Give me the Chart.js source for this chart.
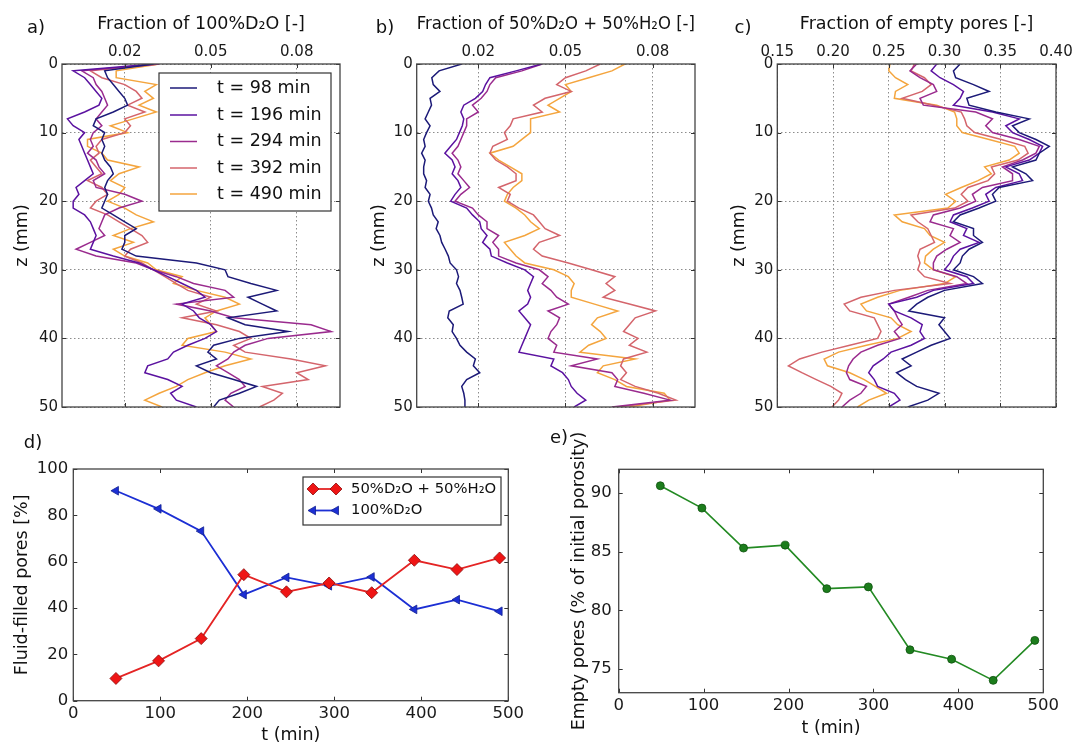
<!DOCTYPE html>
<html>
<head>
<meta charset="utf-8">
<title>Profiles</title>
<script src="https://cdn.jsdelivr.net/npm/chart.js@4.4.1/dist/chart.umd.min.js"></script>
<style>
  html, body { margin: 0; padding: 0; background: #fff; }
  body { width: 1073px; height: 743px; overflow: hidden; position: relative; }
  canvas { position: absolute; }
</style>
</head>
<body>
<canvas id="panel_a" width="360" height="420" style="left:0px;top:0px"></canvas>
<canvas id="panel_b" width="360" height="420" style="left:360px;top:0px"></canvas>
<canvas id="panel_c" width="360" height="420" style="left:720px;top:0px"></canvas>
<canvas id="panel_d" width="540" height="330" style="left:0px;top:420px"></canvas>
<canvas id="panel_e" width="533" height="330" style="left:540px;top:420px"></canvas>
<script>
"use strict";

// depth grid of the profiles (mm) and the scan times
var Z_MM = [0, 1, 2, 3, 4, 5, 6, 7, 8, 9, 10, 11, 12, 13, 14, 15, 16, 17, 18, 19, 20,
    21, 22, 23, 24, 25, 26, 27, 28, 29, 30, 31, 32, 33, 34, 35, 36, 37, 38, 39, 40,
    41, 42, 43, 44, 45, 46, 47, 48, 49, 50];
var T_MIN = [98, 196, 294, 392, 490];

// a) fraction of 100%D2O
var pure_98 = [0.030, 0.013, 0.014, 0.016, 0.018, 0.020, 0.021, 0.016, 0.010, 0.009,
    0.013, 0.012, 0.013, 0.012, 0.013, 0.015, 0.016, 0.014, 0.013, 0.014,
    0.013, 0.012, 0.016, 0.020, 0.024, 0.020, 0.020, 0.019, 0.024, 0.045,
    0.055, 0.056, 0.064, 0.073, 0.063, 0.068, 0.073, 0.056, 0.062, 0.077,
    0.060, 0.051, 0.049, 0.052, 0.045, 0.050, 0.058, 0.066, 0.060, 0.053, 0.051];
var pure_196 = [0.030, 0.002, 0.006, 0.008, 0.010, 0.012, 0.011, 0.006, 0.000, 0.002,
    0.006, 0.004, 0.005, 0.006, 0.007, 0.008, 0.009, 0.006, 0.003, 0.004,
    0.002, 0.002, 0.006, 0.008, 0.009, 0.010, 0.009, 0.008, 0.016, 0.025,
    0.030, 0.035, 0.040, 0.045, 0.048, 0.040, 0.044, 0.046, 0.050, 0.052,
    0.048, 0.042, 0.037, 0.035, 0.028, 0.027, 0.035, 0.040, 0.036, 0.038, 0.045];
var pure_294 = [0.032, 0.005, 0.009, 0.010, 0.012, 0.013, 0.014, 0.012, 0.010, 0.012,
    0.009, 0.008, 0.009, 0.007, 0.010, 0.011, 0.013, 0.009, 0.010, 0.020,
    0.026, 0.018, 0.013, 0.012, 0.011, 0.013, 0.008, 0.003, 0.010, 0.024,
    0.030, 0.038, 0.044, 0.055, 0.058, 0.038, 0.050, 0.058, 0.085, 0.092,
    0.070, 0.062, 0.058, 0.056, 0.052, 0.056, 0.060, 0.062, 0.057, 0.055, 0.058];
var pure_392 = [0.032, 0.008, 0.012, 0.020, 0.024, 0.026, 0.021, 0.027, 0.020, 0.022,
    0.020, 0.012, 0.010, 0.011, 0.008, 0.010, 0.012, 0.007, 0.012, 0.014,
    0.010, 0.008, 0.014, 0.018, 0.022, 0.026, 0.028, 0.022, 0.020, 0.026,
    0.030, 0.034, 0.038, 0.042, 0.050, 0.045, 0.052, 0.040, 0.052, 0.060,
    0.064, 0.058, 0.062, 0.078, 0.090, 0.080, 0.084, 0.068, 0.075, 0.072, 0.067];
var pure_490 = [0.032, 0.017, 0.017, 0.031, 0.027, 0.030, 0.025, 0.031, 0.023, 0.015,
    0.021, 0.007, 0.007, 0.012, 0.014, 0.025, 0.018, 0.015, 0.020, 0.018,
    0.014, 0.020, 0.024, 0.030, 0.022, 0.016, 0.023, 0.016, 0.020, 0.028,
    0.031, 0.040, 0.037, 0.045, 0.055, 0.060, 0.052, 0.048, 0.050, 0.052,
    0.042, 0.040, 0.055, 0.064, 0.055, 0.048, 0.042, 0.038, 0.032, 0.027, 0.033];

// b) fraction of 50%D2O + 50%H2O
var mix_98 = [0.0143, 0.0065, 0.0040, 0.0045, 0.0068, 0.0034, 0.0039, 0.0028, 0.0017, 0.0034,
    0.0022, 0.0012, 0.0017, 0.0005, 0.0017, 0.0012, 0.0012, 0.0022, 0.0017, 0.0034,
    0.0028, 0.0039, 0.0045, 0.0062, 0.0055, 0.0068, 0.0074, 0.0086, 0.0097, 0.0103,
    0.0125, 0.0132, 0.0125, 0.0137, 0.0143, 0.0148, 0.0100, 0.0095, 0.0114, 0.0110,
    0.0125, 0.0137, 0.0160, 0.0190, 0.0183, 0.0205, 0.0160, 0.0143, 0.0150, 0.0154, 0.0154];
var mix_196 = [0.0418, 0.033, 0.024, 0.0225, 0.0215, 0.019, 0.015, 0.014, 0.015, 0.0145,
    0.0135, 0.0125, 0.0105, 0.0085, 0.011, 0.012, 0.011, 0.013, 0.014, 0.012,
    0.0105, 0.016, 0.018, 0.0205, 0.021, 0.023, 0.0215, 0.024, 0.0245, 0.030,
    0.036, 0.039, 0.038, 0.037, 0.038, 0.037, 0.034, 0.036, 0.038, 0.037,
    0.036, 0.035, 0.034, 0.046, 0.045, 0.049, 0.051, 0.052, 0.054, 0.057, 0.053];
var mix_294 = [0.042, 0.035, 0.026, 0.024, 0.023, 0.021, 0.018, 0.020, 0.016, 0.016,
    0.015, 0.014, 0.013, 0.011, 0.013, 0.014, 0.013, 0.015, 0.017, 0.014,
    0.012, 0.018, 0.020, 0.023, 0.023, 0.027, 0.025, 0.027, 0.027, 0.033,
    0.041, 0.044, 0.042, 0.045, 0.047, 0.051, 0.044, 0.048, 0.047, 0.045,
    0.044, 0.047, 0.046, 0.061, 0.052, 0.066, 0.068, 0.067, 0.077, 0.086, 0.066];
var mix_392 = [0.062, 0.057, 0.050, 0.047, 0.052, 0.043, 0.039, 0.042, 0.032, 0.031,
    0.029, 0.030, 0.025, 0.024, 0.026, 0.030, 0.033, 0.033, 0.027, 0.031,
    0.030, 0.034, 0.039, 0.041, 0.043, 0.048, 0.041, 0.039, 0.042, 0.051,
    0.059, 0.067, 0.064, 0.067, 0.063, 0.072, 0.081, 0.074, 0.072, 0.070,
    0.075, 0.072, 0.078, 0.070, 0.069, 0.071, 0.069, 0.074, 0.082, 0.088, 0.068];
var mix_490 = [0.0705, 0.066, 0.058, 0.050, 0.052, 0.048, 0.044, 0.048, 0.038, 0.038,
    0.038, 0.035, 0.032, 0.024, 0.027, 0.031, 0.035, 0.035, 0.032, 0.030,
    0.029, 0.033, 0.036, 0.038, 0.041, 0.036, 0.029, 0.031, 0.033, 0.036,
    0.046, 0.051, 0.053, 0.052, 0.052, 0.060, 0.068, 0.061, 0.059, 0.062,
    0.064, 0.058, 0.055, 0.074, 0.063, 0.061, 0.067, 0.071, 0.084, 0.086, 0.072];

// c) fraction of empty pores
var empty_98 = [0.314, 0.308, 0.310, 0.326, 0.340, 0.320, 0.322, 0.346, 0.376, 0.361,
    0.367, 0.382, 0.394, 0.385, 0.382, 0.361, 0.373, 0.379, 0.349, 0.343,
    0.346, 0.331, 0.314, 0.308, 0.326, 0.326, 0.334, 0.322, 0.316, 0.314,
    0.308, 0.326, 0.334, 0.300, 0.285, 0.275, 0.268, 0.300, 0.295, 0.300,
    0.305, 0.288, 0.275, 0.262, 0.270, 0.257, 0.265, 0.275, 0.295, 0.285, 0.267];
var empty_196 = [0.293, 0.288, 0.296, 0.308, 0.317, 0.314, 0.308, 0.343, 0.367, 0.355,
    0.361, 0.376, 0.388, 0.385, 0.376, 0.355, 0.367, 0.370, 0.346, 0.337,
    0.340, 0.325, 0.308, 0.305, 0.320, 0.317, 0.331, 0.314, 0.308, 0.305,
    0.300, 0.320, 0.326, 0.290, 0.275, 0.250, 0.255, 0.270, 0.280, 0.278,
    0.282, 0.270, 0.252, 0.245, 0.236, 0.232, 0.237, 0.240, 0.255, 0.260, 0.250];
var empty_294 = [0.275, 0.269, 0.278, 0.290, 0.293, 0.278, 0.281, 0.328, 0.343, 0.337,
    0.343, 0.367, 0.385, 0.382, 0.370, 0.352, 0.361, 0.361, 0.334, 0.325,
    0.328, 0.314, 0.290, 0.287, 0.308, 0.305, 0.314, 0.302, 0.293, 0.290,
    0.290, 0.311, 0.320, 0.285, 0.268, 0.250, 0.255, 0.258, 0.262, 0.255,
    0.260, 0.240, 0.225, 0.218, 0.214, 0.212, 0.215, 0.230, 0.225, 0.215, 0.208];
var empty_392 = [0.273, 0.270, 0.282, 0.288, 0.280, 0.262, 0.290, 0.315, 0.318, 0.320,
    0.327, 0.351, 0.372, 0.375, 0.366, 0.342, 0.345, 0.339, 0.321, 0.315,
    0.321, 0.309, 0.270, 0.276, 0.285, 0.288, 0.291, 0.278, 0.276, 0.278,
    0.276, 0.282, 0.305, 0.255, 0.225, 0.210, 0.215, 0.237, 0.240, 0.243,
    0.240, 0.215, 0.190, 0.170, 0.160, 0.172, 0.185, 0.198, 0.208, 0.205, 0.199];
var empty_490 = [0.251, 0.250, 0.256, 0.267, 0.256, 0.255, 0.293, 0.309, 0.311, 0.311,
    0.316, 0.340, 0.363, 0.367, 0.358, 0.336, 0.342, 0.330, 0.315, 0.301,
    0.310, 0.303, 0.255, 0.262, 0.282, 0.287, 0.300, 0.290, 0.283, 0.282,
    0.290, 0.310, 0.300, 0.260, 0.240, 0.225, 0.230, 0.252, 0.258, 0.270,
    0.258, 0.230, 0.205, 0.192, 0.195, 0.215, 0.228, 0.238, 0.248, 0.232, 0.222];

// d) and e) totals over time
var T_SAMPLE = [49, 98, 147, 196, 245, 294, 343, 392, 441, 490];
var MIX_FILLED = [9.6, 17.2, 26.8, 54.4, 47.0, 50.8, 46.6, 60.6, 56.6, 61.6];
var PURE_FILLED = [90.6, 82.8, 73.2, 45.8, 53.2, 49.6, 53.4, 39.4, 43.6, 38.6];
var EMPTY_PCT = [90.6, 88.7, 85.3, 85.55, 81.85, 82.0, 76.65, 75.85, 74.05, 77.45];

// tick labels
var Z_TICKS = [0, 10, 20, 30, 40, 50];
var FRACTION_TICKS = [0.02, 0.05, 0.08];
var EMPTY_TICKS = [0.15, 0.20, 0.25, 0.30, 0.35, 0.40];
var T_TICKS = [0, 100, 200, 300, 400, 500];
var FILLED_TICKS = [0, 20, 40, 60, 80, 100];
var PCT_TICKS = [75, 80, 85, 90];

var FAMILY = '"DejaVu Sans", "Liberation Sans", sans-serif';
var LINE_COLORS = ['#1c1a78', '#5b12a0', '#9a2b8e', '#d4656c', '#f4a53e'];

function fixedTicks(list) {
    return function (scale) {
        scale.ticks = list.map(function (v) { return {value: v}; });
    };
}

// box around the plot, inward tick marks and the panel letter
var framePlugin = {
    id: 'frame',
    afterDraw: function (chart, args, opts) {
        var ctx = chart.ctx;
        var a = chart.chartArea;
        ctx.save();
        ctx.strokeStyle = '#333';
        ctx.lineWidth = 1;
        ['x', 'y'].forEach(function (id) {
            var s = chart.scales[id];
            s.ticks.forEach(function (t) {
                var p = Math.round(s.getPixelForValue(t.value)) + 0.5;
                ctx.beginPath();
                if (s.isHorizontal()) {
                    ctx.moveTo(p, a.top); ctx.lineTo(p, a.top + 4);
                    ctx.moveTo(p, a.bottom); ctx.lineTo(p, a.bottom - 4);
                } else {
                    ctx.moveTo(a.left, p); ctx.lineTo(a.left + 4, p);
                    ctx.moveTo(a.right, p); ctx.lineTo(a.right - 4, p);
                }
                ctx.stroke();
            });
        });
        ctx.strokeStyle = '#444';
        ctx.lineWidth = 1.3;
        ctx.strokeRect(a.left, a.top, a.right - a.left, a.bottom - a.top);
        ctx.fillStyle = '#111';
        ctx.font = '18px ' + FAMILY;
        ctx.textAlign = 'center';
        ctx.textBaseline = 'middle';
        ctx.fillText(opts.letter, opts.lx, opts.ly);
        ctx.restore();
    }
};

// legend box drawn inside the plot like matplotlib does
var boxLegend = {
    id: 'boxLegend',
    afterDraw: function (chart, args, opts) {
        var ctx = chart.ctx;
        ctx.save();
        ctx.fillStyle = '#fff';
        ctx.fillRect(opts.x, opts.y, opts.w, opts.h);
        ctx.strokeStyle = '#333';
        ctx.lineWidth = 1.2;
        ctx.strokeRect(opts.x, opts.y, opts.w, opts.h);
        chart.data.datasets.forEach(function (ds, i) {
            var ry = opts.rows[i];
            ctx.strokeStyle = ds.borderColor;
            ctx.lineWidth = ds.borderWidth;
            ctx.beginPath();
            ctx.moveTo(opts.x0, ry);
            ctx.lineTo(opts.x1, ry);
            ctx.stroke();
            if (opts.markers && Chart.helpers && Chart.helpers.drawPoint) {
                [opts.x0, opts.x1].forEach(function (mx) {
                    ctx.fillStyle = ds.pointBackgroundColor;
                    ctx.strokeStyle = ds.pointBorderColor;
                    ctx.lineWidth = ds.pointBorderWidth;
                    Chart.helpers.drawPoint(ctx, {
                        pointStyle: ds.pointStyle,
                        rotation: ds.pointRotation || 0,
                        radius: ds.pointRadius,
                        borderWidth: ds.pointBorderWidth
                    }, mx, ry);
                });
            }
            ctx.fillStyle = '#111';
            ctx.font = opts.fontSize + 'px ' + FAMILY;
            ctx.textAlign = 'left';
            ctx.textBaseline = 'middle';
            ctx.fillText(ds.label, opts.textX, ry);
        });
        ctx.restore();
    }
};

function makeProfile(id, series, cfg) {
    var datasets = series.map(function (values, i) {
        return {
            label: 't = ' + T_MIN[i] + ' min',
            data: values.map(function (v, k) { return {x: v, y: Z_MM[k]}; }),
            showLine: true,
            borderColor: LINE_COLORS[i],
            borderWidth: 1.5,
            pointRadius: 0,
            tension: 0
        };
    });
    var plugins = [framePlugin];
    if (cfg.legend) plugins.push(boxLegend);

    return new Chart(document.getElementById(id).getContext('2d'), {
        type: 'scatter',
        data: {datasets: datasets},
        options: {
            responsive: false,
            animation: false,
            events: [],
            layout: {padding: {left: 0, top: 0, right: cfg.padRight, bottom: 11}},
            plugins: {
                legend: {display: false},
                tooltip: {enabled: false},
                frame: cfg.frame,
                boxLegend: cfg.legend || {}
            },
            scales: {
                x: {
                    type: 'linear',
                    position: 'top',
                    min: cfg.xMin,
                    max: cfg.xMax,
                    afterBuildTicks: fixedTicks(cfg.xTicks),
                    afterFit: function (s) { s.height = 64; },
                    ticks: {
                        autoSkip: false, maxRotation: 0, padding: 3.3, color: '#1a1a1a',
                        font: {family: FAMILY, size: 15},
                        callback: function (v) { return Number(v).toFixed(2); }
                    },
                    grid: {color: '#8c8c8c', lineWidth: 1, drawTicks: false},
                    border: {display: false, dash: [1.5, 2.5]},
                    title: {
                        display: true, text: cfg.title, color: '#111',
                        font: {family: FAMILY, size: 17.5}, padding: {top: 13.5, bottom: 0}
                    }
                },
                y: {
                    type: 'linear',
                    reverse: true,
                    min: 0,
                    max: 50,
                    afterBuildTicks: fixedTicks(Z_TICKS),
                    afterFit: function (s) { s.width = cfg.plotLeft; },
                    ticks: {
                        autoSkip: false, padding: 4, color: '#1a1a1a',
                        font: {family: FAMILY, size: 15}
                    },
                    grid: {color: '#8c8c8c', lineWidth: 1, drawTicks: false},
                    border: {display: false, dash: [1.5, 2.5]},
                    title: {
                        display: true, text: 'z (mm)', color: '#111',
                        font: {family: FAMILY, size: 17.5}, padding: {top: cfg.yTitlePad, bottom: 0}
                    }
                }
            }
        },
        plugins: plugins
    });
}

function timeScales(cfg) {
    return {
        x: {
            type: 'linear',
            min: 0,
            max: 500,
            afterBuildTicks: fixedTicks(T_TICKS),
            afterFit: function (s) { s.height = cfg.xHeight; },
            ticks: {autoSkip: false, maxRotation: 0, padding: cfg.xTickPad, color: '#1a1a1a',
                font: {family: FAMILY, size: 16.5}},
            grid: {display: false, drawTicks: false},
            border: {display: false},
            title: {display: true, text: 't (min)', color: '#111',
                font: {family: FAMILY, size: 17.5}, padding: {top: 0, bottom: cfg.xTitlePad}}
        },
        y: {
            type: 'linear',
            min: cfg.yMin,
            max: cfg.yMax,
            afterBuildTicks: fixedTicks(cfg.yTicks),
            afterFit: function (s) { s.width = cfg.plotLeft; },
            ticks: {autoSkip: false, padding: cfg.yTickPad, color: '#1a1a1a',
                font: {family: FAMILY, size: 16.5}},
            grid: {display: false, drawTicks: false},
            border: {display: false},
            title: {display: true, text: cfg.yTitle, color: '#111',
                font: {family: FAMILY, size: 17.5}, padding: {top: cfg.yTitlePad, bottom: 0}}
        }
    };
}

function pairs(xs, ys) {
    return xs.map(function (x, i) { return {x: x, y: ys[i]}; });
}

makeProfile('panel_a', [pure_98, pure_196, pure_294, pure_392, pure_490], {
    title: 'Fraction of 100%D\u2082O [-]',
    xMin: -0.0019, xMax: 0.0951, xTicks: FRACTION_TICKS,
    plotLeft: 62, padRight: 20, yTitlePad: 11.5,
    frame: {letter: 'a)', lx: 36, ly: 28},
    legend: {x: 159, y: 73, w: 172, h: 138, x0: 170, x1: 197, textX: 217,
        rows: [88, 115, 141.5, 168, 194], fontSize: 17.5, markers: false}
});

makeProfile('panel_b', [mix_98, mix_196, mix_294, mix_392, mix_490], {
    title: 'Fraction of 50%D\u2082O + 50%H\u2082O [-]',
    xMin: -0.0012, xMax: 0.0946, xTicks: FRACTION_TICKS,
    plotLeft: 56.7, padRight: 25, yTitlePad: 8.5,
    frame: {letter: 'b)', lx: 25, ly: 28}
});

makeProfile('panel_c', [empty_98, empty_196, empty_294, empty_392, empty_490], {
    title: 'Fraction of empty pores [-]',
    xMin: 0.15, xMax: 0.40, xTicks: EMPTY_TICKS,
    plotLeft: 57.3, padRight: 24, yTitlePad: 8.5,
    frame: {letter: 'c)', lx: 23, ly: 28}
});

new Chart(document.getElementById('panel_d').getContext('2d'), {
    type: 'scatter',
    data: {
        datasets: [{
            label: '50%D\u2082O + 50%H\u2082O',
            data: pairs(T_SAMPLE, MIX_FILLED),
            showLine: true,
            borderColor: '#e42424',
            borderWidth: 1.8,
            pointStyle: 'rectRot',
            pointRadius: 6,
            pointBackgroundColor: '#ef1515',
            pointBorderColor: '#8c0c0c',
            pointBorderWidth: 0.8
        }, {
            label: '100%D\u2082O',
            data: pairs(T_SAMPLE, PURE_FILLED),
            showLine: true,
            borderColor: '#1c2fd4',
            borderWidth: 1.8,
            pointStyle: 'triangle',
            pointRotation: -90,
            pointRadius: 5,
            pointBackgroundColor: '#1c2fd4',
            pointBorderColor: '#10208f',
            pointBorderWidth: 0.8
        }]
    },
    options: {
        responsive: false,
        animation: false,
        events: [],
        layout: {padding: {left: 0, top: 49, right: 31.7, bottom: 0}},
        plugins: {
            legend: {display: false},
            tooltip: {enabled: false},
            frame: {letter: 'd)', lx: 33, ly: 23},
            boxLegend: {x: 303, y: 57, w: 198, h: 48, x0: 313, x1: 336, textX: 351,
                rows: [69, 90.5], fontSize: 14.8, markers: true}
        },
        scales: timeScales({
            xHeight: 49.3, xTickPad: 3, xTitlePad: 4,
            yMin: 0, yMax: 100, yTicks: FILLED_TICKS, plotLeft: 73.3, yTickPad: 5,
            yTitle: 'Fluid-filled pores [%]', yTitlePad: 11.5
        })
    },
    plugins: [framePlugin, boxLegend]
});

new Chart(document.getElementById('panel_e').getContext('2d'), {
    type: 'scatter',
    data: {
        datasets: [{
            label: 'Empty pores',
            data: pairs(T_SAMPLE, EMPTY_PCT),
            showLine: true,
            borderColor: '#238a23',
            borderWidth: 1.6,
            pointStyle: 'circle',
            pointRadius: 4,
            pointBackgroundColor: '#1c7d1c',
            pointBorderColor: '#0f520f',
            pointBorderWidth: 0.8
        }]
    },
    options: {
        responsive: false,
        animation: false,
        events: [],
        layout: {padding: {left: 0, top: 49.3, right: 29.7, bottom: 0}},
        plugins: {
            legend: {display: false},
            tooltip: {enabled: false},
            frame: {letter: 'e)', lx: 19, ly: 18}
        },
        scales: timeScales({
            xHeight: 57.3, xTickPad: 3, xTitlePad: 11,
            yMin: 73, yMax: 92, yTicks: PCT_TICKS, plotLeft: 78.7, yTickPad: 7,
            yTitle: 'Empty pores (% of initial porosity)', yTitlePad: 28.5
        })
    },
    plugins: [framePlugin]
});
</script>
</body>
</html>
